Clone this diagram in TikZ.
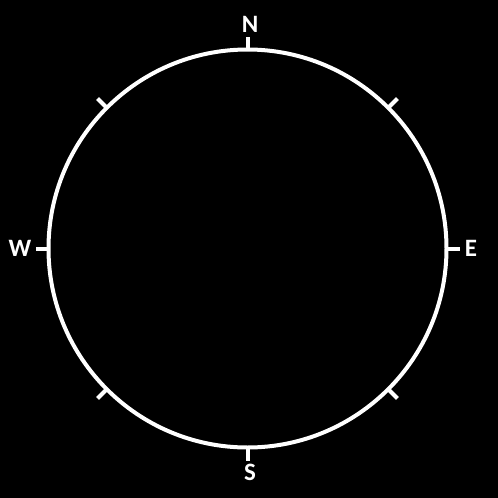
\documentclass[tikz,border=0pt]{standalone}
\usepackage{fontspec}
\setmainfont{Carlito}
\usetikzlibrary{calc}
\begin{document}
\begin{tikzpicture}[x=1pt,y=-1pt,
  ring/.style={draw=white,line width=4pt},
  tick/.style={draw=white,line width=4pt},
  lbl/.style={text=white,font=\fontsize{25}{25}\selectfont\bfseries,inner sep=0pt}]
\fill[black] (0,0) rectangle (498,498);
\useasboundingbox (0,0) rectangle (498,498);
\coordinate (c) at (247.5,248.5);
\draw[ring] (c) circle[radius=199];
\foreach \a in {0,45,...,315}{
  \draw[tick] ($(c)+(\a:199)$) -- ($(c)+(\a:212)$);
}
\node[lbl] (N) at (250,24) {N};
\node[lbl] (S) at (250,472) {S};
\node[lbl] (W) at (20,248.5) {W};
\node[lbl] (E) at (471,248.5) {E};
\end{tikzpicture}
\end{document}
